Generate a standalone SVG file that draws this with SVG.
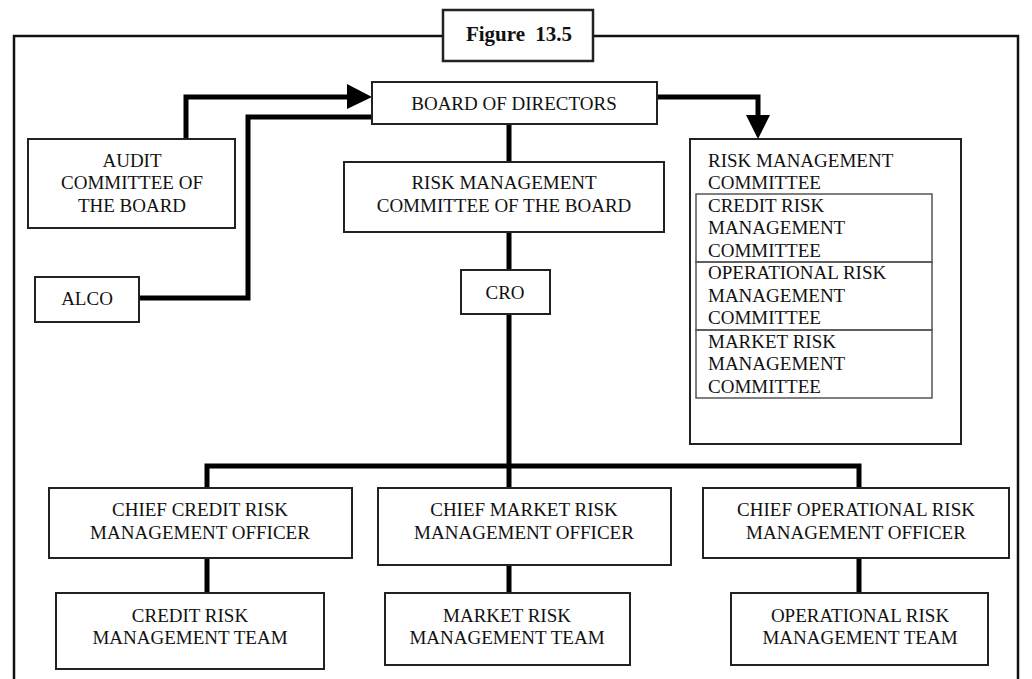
<svg xmlns="http://www.w3.org/2000/svg" width="1032" height="679" viewBox="0 0 1032 679">
<style>
.box{fill:#fff;stroke:#222;stroke-width:2}
.inner{fill:none;stroke:#555;stroke-width:1.5}
.conn{fill:none;stroke:#000;stroke-width:5;stroke-linejoin:miter}
.frame{fill:none;stroke:#111;stroke-width:2.5}
text{font-family:"Liberation Serif","Times New Roman",serif;font-size:19px;fill:#111}
.c{text-anchor:middle}
.title{font-weight:bold;font-size:21px}
</style>
<g id="frame">
<path class="frame" d="M14,679 V36 H443 M593,36 H1018 V679"/>
</g>
<g id="title">
<rect class="box" x="443" y="10" width="150" height="51" style="stroke-width:2.5"/>
<text class="c title" x="519" y="41" word-spacing="5">Figure 13.5</text>
</g>
<g id="connectors">
<path class="conn" d="M186,139 V97 H350"/>
<polygon points="347,84 372,97 347,109" fill="#000"/>
<path class="conn" d="M139,298 H248 V117 H372"/>
<path class="conn" d="M657,97 H758 V118"/>
<polygon points="746,115 770,115 758,139" fill="#000"/>
<path class="conn" d="M509,124 V162 M509,232 V270 M509,314 V488"/>
<path class="conn" d="M207,488 V466 H859 V488"/>
<path class="conn" d="M207,558 V593 M509,565 V593 M859,558 V593"/>
</g>
<g id="board">
<rect class="box" x="372" y="82" width="285" height="42"/>
<text class="c" x="514" y="110">BOARD OF DIRECTORS</text>
</g>
<g id="audit">
<rect class="box" x="28" y="139" width="207" height="89"/>
<text class="c" x="132" y="167">AUDIT</text>
<text class="c" x="132" y="189">COMMITTEE OF</text>
<text class="c" x="132" y="212">THE BOARD</text>
</g>
<g id="alco">
<rect class="box" x="35" y="277" width="104" height="45"/>
<text class="c" x="87" y="305">ALCO</text>
</g>
<g id="rmcb">
<rect class="box" x="344" y="162" width="320" height="70"/>
<text class="c" x="504" y="189">RISK MANAGEMENT</text>
<text class="c" x="504" y="212">COMMITTEE OF THE BOARD</text>
</g>
<g id="cro">
<rect class="box" x="461" y="270" width="89" height="44"/>
<text class="c" x="505" y="299">CRO</text>
</g>
<g id="rmc">
<rect class="box" x="690" y="139" width="271" height="305"/>
<text x="708" y="167">RISK MANAGEMENT</text>
<text x="708" y="189">COMMITTEE</text>
<g id="credit-rmc">
<rect class="inner" x="696" y="194" width="236" height="68"/>
<text x="708" y="212">CREDIT RISK</text>
<text x="708" y="234">MANAGEMENT</text>
<text x="708" y="257">COMMITTEE</text>
</g>
<g id="op-rmc">
<rect class="inner" x="696" y="262" width="236" height="68"/>
<text x="708" y="279">OPERATIONAL RISK</text>
<text x="708" y="302">MANAGEMENT</text>
<text x="708" y="324">COMMITTEE</text>
</g>
<g id="market-rmc">
<rect class="inner" x="696" y="330" width="236" height="68"/>
<text x="708" y="348">MARKET RISK</text>
<text x="708" y="370">MANAGEMENT</text>
<text x="708" y="393">COMMITTEE</text>
</g>
</g>
<g id="chief-credit">
<rect class="box" x="49" y="488" width="303" height="70"/>
<text class="c" x="200" y="516">CHIEF CREDIT RISK</text>
<text class="c" x="200" y="539">MANAGEMENT OFFICER</text>
</g>
<g id="chief-market">
<rect class="box" x="378" y="488" width="293" height="77"/>
<text class="c" x="524" y="516">CHIEF MARKET RISK</text>
<text class="c" x="524" y="539">MANAGEMENT OFFICER</text>
</g>
<g id="chief-op">
<rect class="box" x="703" y="488" width="306" height="70"/>
<text class="c" x="856" y="516">CHIEF OPERATIONAL RISK</text>
<text class="c" x="856" y="539">MANAGEMENT OFFICER</text>
</g>
<g id="credit-team">
<rect class="box" x="56" y="593" width="268" height="76"/>
<text class="c" x="190" y="622">CREDIT RISK</text>
<text class="c" x="190" y="644">MANAGEMENT TEAM</text>
</g>
<g id="market-team">
<rect class="box" x="385" y="593" width="245" height="72"/>
<text class="c" x="507" y="622">MARKET RISK</text>
<text class="c" x="507" y="644">MANAGEMENT TEAM</text>
</g>
<g id="op-team">
<rect class="box" x="731" y="593" width="257" height="72"/>
<text class="c" x="860" y="622">OPERATIONAL RISK</text>
<text class="c" x="860" y="644">MANAGEMENT TEAM</text>
</g>
</svg>
